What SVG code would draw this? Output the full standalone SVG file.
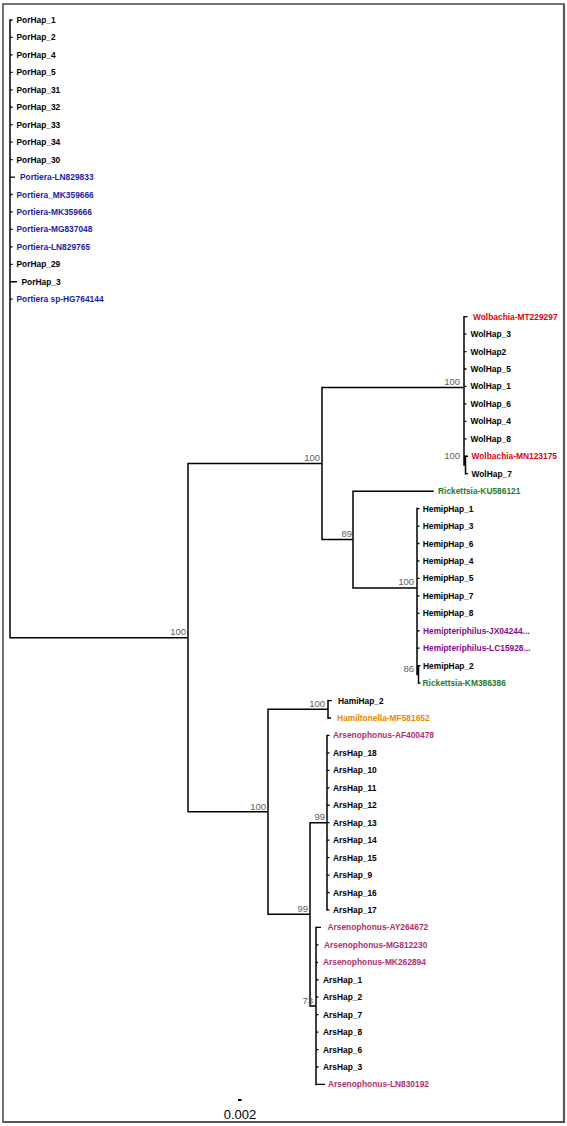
<svg xmlns="http://www.w3.org/2000/svg" width="567" height="1126" viewBox="0 0 567 1126">
<style>
.l{font-family:"Liberation Sans",Arial,sans-serif;font-size:8.4px;font-weight:bold;fill:#000}
.bl{fill:#1c1ca6}.rd{fill:#e00010}.gr{fill:#1e7b2a}.pu{fill:#8a0a8a}.ar{fill:#b0306f}.or{fill:#e68a00}
.bs{font-family:"Liberation Sans",Arial,sans-serif;font-size:9.5px;fill:#606060;text-anchor:end}
.c{fill:none;stroke:#000;stroke-width:1.5;stroke-linecap:square}
.t{fill:none;stroke:#000;stroke-width:1.3}
</style>
<rect x="3" y="4" width="561" height="1118" fill="#fff" stroke="#505050" stroke-width="1.6"/>
<path d="M564 5V1122H4" fill="none" stroke="#555" stroke-width="2.2"/>
<g id="connectors">
<path class="c" d="M10 20V637.65H188M188 463.5V811.8M188 463.5H322M322 387.42V539.58M322 387.42H464M464 316.65V464.98M464 464.98H465.5M465.5 456.25V473.7M322 539.58H353M353 491.15V588M353 491.15H433M353 588H417M417 508.6V674.38M417 674.38H418.5M418.5 665.65V683.1M188 811.8H268M268 709.28V914.31M268 709.28H328M328 700.55V718M268 914.31H310M310 822.7V1005.93M310 822.7H327M327 735.45V909.95M310 1005.93H316M316 927.4V1084.45"/>
<path class="t" d="M10 20H12.5M10 37.45H12.5M10 54.9H12.5M10 72.35H12.5M10 89.8H12.5M10 107.25H12.5M10 124.7H12.5M10 142.15H12.5M10 159.6H12.5M10 177.05H15M10 194.5H12.5M10 211.95H12.5M10 229.4H12.5M10 246.85H12.5M10 264.3H12.5M10 281.75H17M10 299.2H12.5
M464 316.65H467.5M464 334.1H466.5M464 351.55H466.5M464 369H466.5M464 386.45H466.5M464 403.9H466.5M464 421.35H466.5M464 438.8H466.5M465.5 456.25H468M465.5 473.7H468
M417 508.6H419.5M417 526.05H419.5M417 543.5H419.5M417 560.95H419.5M417 578.4H419.5M417 595.85H419.5M417 613.3H419.5M417 630.75H419.5M417 648.2H419.5M418.5 665.65H420.5M418.5 683.1H420.5
M328 700.55H332M328 718H331M327 735.45H329.5M327 752.9H329.5M327 770.35H329.5M327 787.8H329.5M327 805.25H329.5M327 822.7H329.5M327 840.15H329.5M327 857.6H329.5M327 875.05H329.5M327 892.5H329.5M327 909.95H329.5
M316 927.4H321M316 944.85H318.5M316 962.3H318M316 979.75H318.5M316 997.2H318.5M316 1014.65H318.5M316 1032.1H318.5M316 1049.55H318.5M316 1067H318.5M316 1084.45H325"/>
</g>
<g id="bootstrap">
<text class="bs" x="186" y="635">100</text>
<text class="bs" x="320" y="460.5">100</text>
<text class="bs" x="460" y="385">100</text>
<text class="bs" x="460" y="459">100</text>
<text class="bs" x="352" y="536.5">89</text>
<text class="bs" x="414" y="585">100</text>
<text class="bs" x="414" y="671.5">86</text>
<text class="bs" x="266" y="809.5">100</text>
<text class="bs" x="325" y="706.5">100</text>
<text class="bs" x="325" y="820">99</text>
<text class="bs" x="308" y="912">99</text>
<text class="bs" x="313" y="1004">73</text>
</g>
<g id="leaf-PorHap_1"><text class="l" x="16.5" y="23">PorHap_1</text></g>
<g id="leaf-PorHap_2"><text class="l" x="16.5" y="40.45">PorHap_2</text></g>
<g id="leaf-PorHap_4"><text class="l" x="16.5" y="57.9">PorHap_4</text></g>
<g id="leaf-PorHap_5"><text class="l" x="16.5" y="75.35">PorHap_5</text></g>
<g id="leaf-PorHap_31"><text class="l" x="16.5" y="92.8">PorHap_31</text></g>
<g id="leaf-PorHap_32"><text class="l" x="16.5" y="110.25">PorHap_32</text></g>
<g id="leaf-PorHap_33"><text class="l" x="16.5" y="127.7">PorHap_33</text></g>
<g id="leaf-PorHap_34"><text class="l" x="16.5" y="145.15">PorHap_34</text></g>
<g id="leaf-PorHap_30"><text class="l" x="16.5" y="162.6">PorHap_30</text></g>
<g id="leaf-Portiera-LN829833"><text class="l bl" x="20" y="180.05">Portiera-LN829833</text></g>
<g id="leaf-Portiera_MK359666"><text class="l bl" x="16.5" y="197.5">Portiera_MK359666</text></g>
<g id="leaf-Portiera-MK359666"><text class="l bl" x="16.5" y="214.95">Portiera-MK359666</text></g>
<g id="leaf-Portiera-MG837048"><text class="l bl" x="16.5" y="232.4">Portiera-MG837048</text></g>
<g id="leaf-Portiera-LN829765"><text class="l bl" x="16.5" y="249.85">Portiera-LN829765</text></g>
<g id="leaf-PorHap_29"><text class="l" x="16.5" y="267.3">PorHap_29</text></g>
<g id="leaf-PorHap_3"><text class="l" x="21.5" y="284.75">PorHap_3</text></g>
<g id="leaf-Portiera_sp-HG764144"><text class="l bl" x="16.5" y="302.2">Portiera sp-HG764144</text></g>
<g id="leaf-Wolbachia-MT229297"><text class="l rd" x="473" y="319.65">Wolbachia-MT229297</text></g>
<g id="leaf-WolHap_3"><text class="l" x="470.5" y="337.1">WolHap_3</text></g>
<g id="leaf-WolHap2"><text class="l" x="470.5" y="354.55">WolHap2</text></g>
<g id="leaf-WolHap_5"><text class="l" x="470.5" y="372">WolHap_5</text></g>
<g id="leaf-WolHap_1"><text class="l" x="470.5" y="389.45">WolHap_1</text></g>
<g id="leaf-WolHap_6"><text class="l" x="470.5" y="406.9">WolHap_6</text></g>
<g id="leaf-WolHap_4"><text class="l" x="470.5" y="424.35">WolHap_4</text></g>
<g id="leaf-WolHap_8"><text class="l" x="470.5" y="441.8">WolHap_8</text></g>
<g id="leaf-Wolbachia-MN123175"><text class="l rd" x="471.5" y="459.25">Wolbachia-MN123175</text></g>
<g id="leaf-WolHap_7"><text class="l" x="471.5" y="476.7">WolHap_7</text></g>
<g id="leaf-Rickettsia-KU586121"><text class="l gr" x="438" y="494.15">Rickettsia-KU586121</text></g>
<g id="leaf-HemipHap_1"><text class="l" x="422.7" y="511.6">HemipHap_1</text></g>
<g id="leaf-HemipHap_3"><text class="l" x="422.7" y="529.05">HemipHap_3</text></g>
<g id="leaf-HemipHap_6"><text class="l" x="422.7" y="546.5">HemipHap_6</text></g>
<g id="leaf-HemipHap_4"><text class="l" x="422.7" y="563.95">HemipHap_4</text></g>
<g id="leaf-HemipHap_5"><text class="l" x="422.7" y="581.4">HemipHap_5</text></g>
<g id="leaf-HemipHap_7"><text class="l" x="422.7" y="598.85">HemipHap_7</text></g>
<g id="leaf-HemipHap_8"><text class="l" x="422.7" y="616.3">HemipHap_8</text></g>
<g id="leaf-Hemipteriphilus-JX04244"><text class="l pu" x="423" y="633.75">Hemipteriphilus-JX04244...</text></g>
<g id="leaf-Hemipteriphilus-LC15928"><text class="l pu" x="423" y="651.2">Hemipteriphilus-LC15928...</text></g>
<g id="leaf-HemipHap_2"><text class="l" x="423" y="668.65">HemipHap_2</text></g>
<g id="leaf-Rickettsia-KM386386"><text class="l gr" x="422.5" y="686.1">Rickettsia-KM386386</text></g>
<g id="leaf-HamiHap_2"><text class="l" x="338" y="703.55">HamiHap_2</text></g>
<g id="leaf-Hamiltonella-MF581652"><text class="l or" x="337" y="721">Hamiltonella-MF581652</text></g>
<g id="leaf-Arsenophonus-AF400478"><text class="l ar" x="333" y="738.45">Arsenophonus-AF400478</text></g>
<g id="leaf-ArsHap_18"><text class="l" x="333" y="755.9">ArsHap_18</text></g>
<g id="leaf-ArsHap_10"><text class="l" x="333" y="773.35">ArsHap_10</text></g>
<g id="leaf-ArsHap_11"><text class="l" x="333" y="790.8">ArsHap_11</text></g>
<g id="leaf-ArsHap_12"><text class="l" x="333" y="808.25">ArsHap_12</text></g>
<g id="leaf-ArsHap_13"><text class="l" x="333" y="825.7">ArsHap_13</text></g>
<g id="leaf-ArsHap_14"><text class="l" x="333" y="843.15">ArsHap_14</text></g>
<g id="leaf-ArsHap_15"><text class="l" x="333" y="860.6">ArsHap_15</text></g>
<g id="leaf-ArsHap_9"><text class="l" x="333" y="878.05">ArsHap_9</text></g>
<g id="leaf-ArsHap_16"><text class="l" x="333" y="895.5">ArsHap_16</text></g>
<g id="leaf-ArsHap_17"><text class="l" x="333" y="912.95">ArsHap_17</text></g>
<g id="leaf-Arsenophonus-AY264672"><text class="l ar" x="327.5" y="930.4">Arsenophonus-AY264672</text></g>
<g id="leaf-Arsenophonus-MG812230"><text class="l ar" x="324" y="947.85">Arsenophonus-MG812230</text></g>
<g id="leaf-Arsenophonus-MK262894"><text class="l ar" x="323" y="965.3">Arsenophonus-MK262894</text></g>
<g id="leaf-ArsHap_1"><text class="l" x="323" y="982.75">ArsHap_1</text></g>
<g id="leaf-ArsHap_2"><text class="l" x="323" y="1000.2">ArsHap_2</text></g>
<g id="leaf-ArsHap_7"><text class="l" x="323" y="1017.65">ArsHap_7</text></g>
<g id="leaf-ArsHap_8"><text class="l" x="323" y="1035.1">ArsHap_8</text></g>
<g id="leaf-ArsHap_6"><text class="l" x="323" y="1052.55">ArsHap_6</text></g>
<g id="leaf-ArsHap_3"><text class="l" x="323" y="1070">ArsHap_3</text></g>
<g id="leaf-Arsenophonus-LN830192"><text class="l ar" x="328" y="1087.45">Arsenophonus-LN830192</text></g>
<g id="scale">
<line x1="238" y1="1100" x2="241.5" y2="1100" stroke="#000" stroke-width="2"/>
<text x="240" y="1119" text-anchor="middle" style="font-family:'Liberation Sans',Arial,sans-serif;font-size:13px;fill:#000">0.002</text>
</g>
</svg>
